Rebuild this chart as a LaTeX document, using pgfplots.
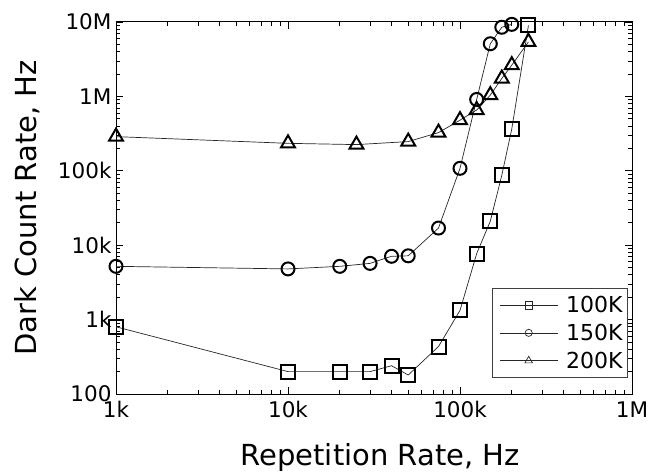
\documentclass[border=0pt]{standalone}
\usepackage{fontspec}
\setmainfont{DejaVu Sans}
\usepackage{pgfplots}
\pgfplotsset{compat=1.18}
\begin{document}
\begin{tikzpicture}
\path[use as bounding box] (-116pt,-81pt) rectangle (548pt,394pt);
\begin{axis}[
  at={(0,0)}, anchor=south west,
  scale only axis, width=516pt, height=372pt,
  xmode=log, ymode=log,
  xmin=1000, xmax=1000000, ymin=100, ymax=10000000,
  xtick={1000,10000,100000,1000000},
  xticklabels={1k,10k,100k,1M},
  ytick={100,1000,10000,100000,1000000,10000000},
  yticklabels={100,1k,10k,100k,1M,10M},
  /pgf/number format/assume math mode=true,
  tick label style={font=\fontsize{21.5}{25}\selectfont},
  xticklabel style={yshift=-4pt},
  yticklabel style={xshift=-1pt},
  tick align=inside,
  major tick length=7pt, minor tick length=4pt,
  every tick/.style={black, line width=0.7pt},
  axis line style={line width=1pt},
  xlabel={Repetition Rate, Hz},
  ylabel={Dark Count Rate, Hz},
  label style={font=\fontsize{29}{32}\selectfont},
  xlabel style={at={(axis description cs:0.512,-0.172)}, anchor=center},
  ylabel style={at={(axis description cs:-0.172,0.5)}, anchor=center},
  legend style={at={(0.992,0.043)}, anchor=south east, draw=black!75, line width=0.8pt,
    font=\fontsize{22}{25}\selectfont, row sep=6pt, inner xsep=3pt, inner ysep=6pt},
  legend cell align=left,
  legend image code/.code={
    \draw[mark repeat=2,mark phase=2,mark options={scale=0.55}] plot coordinates {(4pt,0pt) (33pt,0pt) (62pt,0pt)};
    \path (0pt,0pt) (68pt,0pt);
  },
  clip=true,
]
\addplot[black!85, line width=0.7pt, mark=square, mark size=7pt,
  mark options={solid, fill=white, line width=2pt, draw=black}] coordinates {
  (1000,800) (10000,200) (20000,200) (30000,200) (40000,240) (50000,180)
  (75000,435) (100000,1330) (125000,7700) (150000,21000) (175000,87000)
  (200000,365000) (250000,9000000)
};
\addlegendentry{100K}
\addplot[black!85, line width=0.7pt, mark=o, mark size=6.5pt,
  mark options={solid, fill=white, line width=2pt, draw=black}] coordinates {
  (1000,5200) (10000,4800) (20000,5200) (30000,5700) (40000,7100) (50000,7200)
  (75000,17000) (100000,108000) (125000,910000) (150000,5100000)
  (175000,8500000) (200000,9300000)
};
\addlegendentry{150K}
\addplot[black!85, line width=0.7pt, mark=triangle, mark size=8pt,
  mark options={solid, fill=white, line width=2pt, draw=black}] coordinates {
  (1000,288000) (10000,234000) (25000,225000) (50000,247000) (75000,326000)
  (100000,480000) (125000,656000) (150000,1040000) (175000,1740000)
  (200000,2630000) (250000,5400000)
};
\addlegendentry{200K}
\end{axis}
\end{tikzpicture}
\end{document}
